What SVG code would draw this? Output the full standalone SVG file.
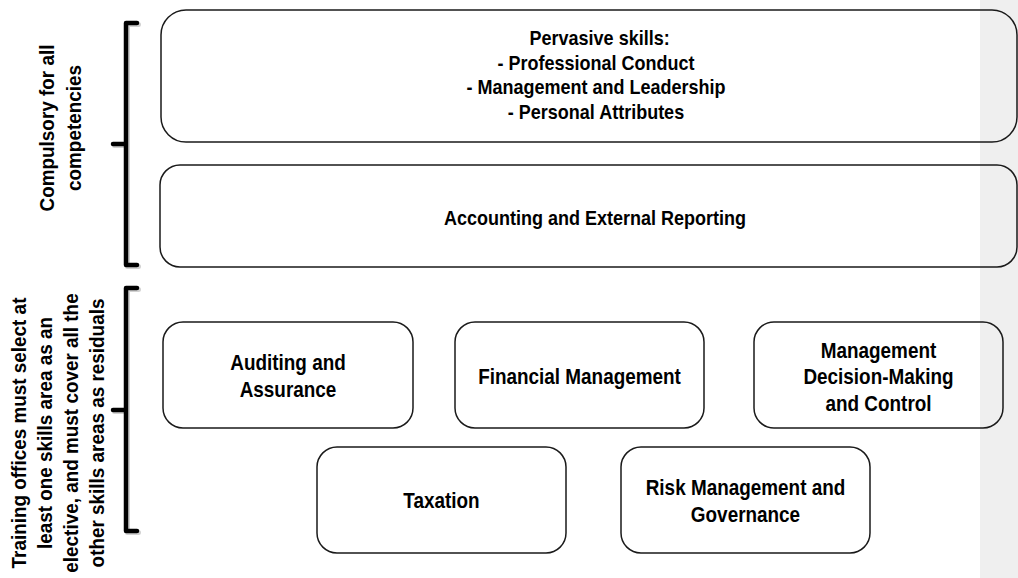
<svg xmlns="http://www.w3.org/2000/svg" width="1018" height="578" viewBox="0 0 1018 578">
  <style>
    .box { fill: none; stroke: #1a1a1a; stroke-width: 1.5; }
    .t { font-family: "Liberation Sans", Arial, sans-serif; font-weight: bold; fill: #000; text-anchor: middle; }
    .t20 { font-size: 20px; }
    .t21 { font-size: 21px; }
    .t22 { font-size: 22px; }
    .br { fill: none; stroke: #000; stroke-width: 4.5; stroke-linejoin: round; stroke-linecap: round; }
    .brs { fill: none; stroke: #000; stroke-opacity: 0.18; stroke-width: 5; stroke-linejoin: round; stroke-linecap: round; }
  </style>
  <rect x="0" y="0" width="1018" height="578" fill="#ffffff"/>
  <rect id="side-band" x="980" y="0" width="38" height="578" fill="#efefef"/>

  <g id="connectors">
    <g id="bracket-compulsory">
      <path class="brs" d="M138.5,24.5 H127.5 V266.5 H138.5 M127.5,145.5 H114.5"/>
      <path class="br" d="M137,23 H126 V265 H137 M126,144 H113"/>
    </g>
    <g id="bracket-elective">
      <path class="brs" d="M138.5,289.5 H127.5 V532.5 H138.5 M127.5,411.5 H114.5"/>
      <path class="br" d="M137,288 H126 V531 H137 M126,410 H113"/>
    </g>
  </g>

  <g id="label-compulsory">
    <text class="t t21" transform="translate(54,128) rotate(-90) scale(0.9,1)">Compulsory for all</text>
    <text class="t t21" transform="translate(81,128) rotate(-90) scale(0.9,1)">competencies</text>
  </g>
  <g id="label-elective">
    <text class="t t21" transform="translate(26,433) rotate(-90) scale(0.9,1)">Training offices must select at</text>
    <text class="t t21" transform="translate(52,433) rotate(-90) scale(0.9,1)">least one skills area as an</text>
    <text class="t t21" transform="translate(78,433) rotate(-90) scale(0.9,1)">elective, and must cover all the</text>
    <text class="t t21" transform="translate(104,433) rotate(-90) scale(0.9,1)">other skills areas as residuals</text>
  </g>

  <g id="node-pervasive">
    <rect class="box" x="161" y="10" width="856" height="132" rx="25" ry="25"/>
    <g transform="translate(596,0) scale(0.9,1)">
      <text class="t t20" x="4" y="45">Pervasive skills:</text>
      <text class="t t20" x="0" y="70">- Professional Conduct</text>
      <text class="t t20" x="0" y="94">- Management and Leadership</text>
      <text class="t t20" x="0" y="119">- Personal Attributes</text>
    </g>
  </g>
  <g id="node-accounting">
    <rect class="box" x="160" y="165" width="857" height="102" rx="20" ry="20"/>
    <text class="t t20" transform="translate(595,225) scale(0.9,1)">Accounting and External Reporting</text>
  </g>
  <g id="node-auditing">
    <rect class="box" x="163" y="322" width="250" height="106" rx="20" ry="20"/>
    <g transform="translate(288,0) scale(0.86,1)">
      <text class="t t22" x="0" y="370">Auditing and</text>
      <text class="t t22" x="0" y="397">Assurance</text>
    </g>
  </g>
  <g id="node-financial">
    <rect class="box" x="455" y="322" width="249" height="106" rx="20" ry="20"/>
    <text class="t t22" transform="translate(579.5,384) scale(0.86,1)">Financial Management</text>
  </g>
  <g id="node-decision">
    <rect class="box" x="754" y="322" width="249" height="106" rx="20" ry="20"/>
    <g transform="translate(878.5,0) scale(0.86,1)">
      <text class="t t22" x="0" y="358">Management</text>
      <text class="t t22" x="0" y="384">Decision-Making</text>
      <text class="t t22" x="0" y="411">and Control</text>
    </g>
  </g>
  <g id="node-taxation">
    <rect class="box" x="317" y="447" width="249" height="106" rx="20" ry="20"/>
    <text class="t t22" transform="translate(441.5,508) scale(0.86,1)">Taxation</text>
  </g>
  <g id="node-risk">
    <rect class="box" x="621" y="447" width="249" height="106" rx="20" ry="20"/>
    <g transform="translate(745.5,0) scale(0.86,1)">
      <text class="t t22" x="0" y="495">Risk Management and</text>
      <text class="t t22" x="0" y="522">Governance</text>
    </g>
  </g>
</svg>
